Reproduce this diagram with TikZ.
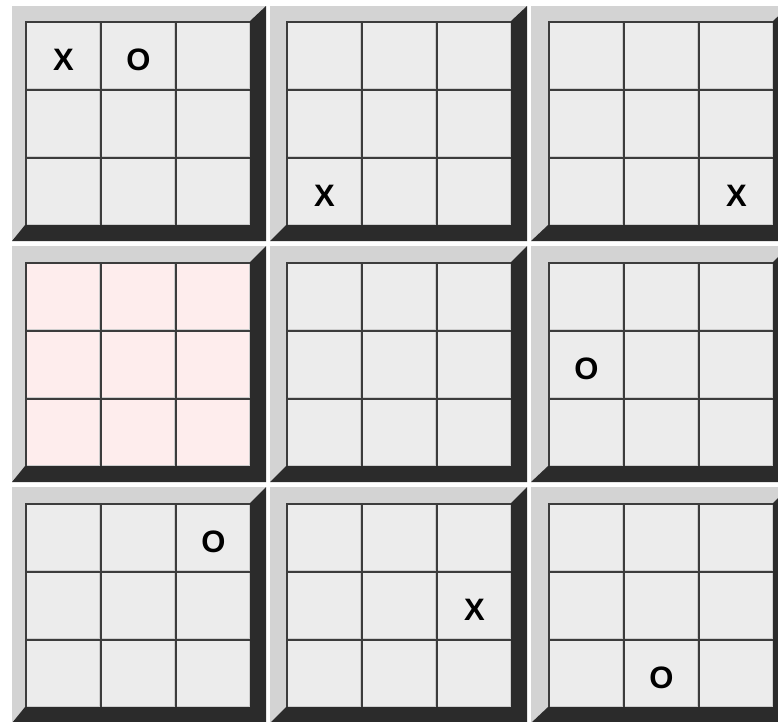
\documentclass[tikz,border=0pt]{standalone}
\usepackage{fontspec}
\setmainfont{Liberation Sans}
\definecolor{bevellight}{RGB}{211,211,211}
\definecolor{beveldark}{RGB}{43,43,43}
\definecolor{cellbg}{RGB}{236,236,236}
\definecolor{cellpink}{RGB}{254,237,237}
\definecolor{griddark}{RGB}{60,60,60}
\definecolor{gridlight}{RGB}{205,205,205}
\tikzset{
  gridhi/.style={draw=griddark,line width=2pt},
  gridlo/.style={draw=gridlight,line width=1pt},
  mark text/.style={font=\fontsize{31}{31}\selectfont\bfseries,inner sep=0pt,text depth=0pt,anchor=center}
}
% #1 outer left, #2 outer top, #3 inner left, #4 inner top, #5 cell colour
\newcommand\tttboard[5]{%
  \fill[bevellight] (#1,#2) -- ({#3+241},#2) -- ({#3+225},#4) -- (#3,#4) -- (#3,{#4+204}) -- (#1,{#4+220}) -- cycle;
  \fill[beveldark] ({#3+241},#2) -- ({#3+241},{#4+220}) -- (#1,{#4+220}) -- (#3,{#4+204}) -- ({#3+225},{#4+204}) -- ({#3+225},#4) -- cycle;
  \foreach \i in {0,1,2}{\foreach \j in {0,1,2}{%
    \pgfmathsetmacro\xa{#3+75*\i}\pgfmathsetmacro\xb{#3+75*\i+75}%
    \pgfmathsetmacro\ya{#4+68*\j}\pgfmathsetmacro\yb{#4+68*\j+68}%
    \fill[#5] (\xa,\ya) rectangle (\xb,\yb);
    \draw[gridlo] ({\xb-0.5},\ya) -- ({\xb-0.5},{\yb-0.5}) -- (\xa,{\yb-0.5});
    \draw[gridhi] ({\xa+1},\yb) -- ({\xa+1},{\ya+1}) -- (\xb,{\ya+1});
  }}%
}
% #1 name, #2 inner left, #3 inner top, #4 col, #5 row, #6 text
\newcommand\tttmark[6]{%
  \node[mark text] (#1) at ({#2+75*#4+38.5},{#3+68*#5+39}) {#6};
}
\begin{document}
\begin{tikzpicture}[x=1pt,y=-1pt]
\useasboundingbox (0,0) rectangle (778,721);
\fill[white] (0,0) rectangle (778,721);
\clip (0,0) rectangle (778,721);
% row 1
\tttboard{12}{6}{25}{21}{cellbg}
\tttboard{270}{6}{286}{21}{cellbg}
\tttboard{531}{6}{548}{21}{cellbg}
% row 2
\tttboard{12}{246}{25}{262}{cellpink}
\tttboard{270}{246}{286}{262}{cellbg}
\tttboard{531}{246}{548}{262}{cellbg}
% row 3
\tttboard{12}{487}{25}{503}{cellbg}
\tttboard{270}{487}{286}{503}{cellbg}
\tttboard{531}{487}{548}{503}{cellbg}
% marks
\tttmark{a1}{25}{21}{0}{0}{X}
\tttmark{a2}{25}{21}{1}{0}{O}
\tttmark{b1}{286}{21}{0}{2}{X}
\tttmark{c1}{548}{21}{2}{2}{X}
\tttmark{f1}{548}{262}{0}{1}{O}
\tttmark{g1}{25}{503}{2}{0}{O}
\tttmark{h1}{286}{503}{2}{1}{X}
\tttmark{i1}{548}{503}{1}{2}{O}
\end{tikzpicture}
\end{document}
